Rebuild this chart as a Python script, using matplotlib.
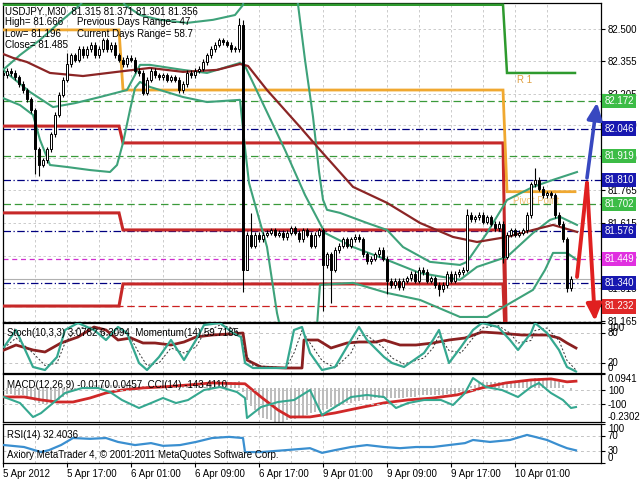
import numpy as np
import matplotlib
matplotlib.use("Agg")
import matplotlib.pyplot as plt
import matplotlib.transforms as mtrans

plt.rcParams['font.family'] = ['Liberation Sans', 'DejaVu Sans']

# ---------------- candles (USDJPY M30, bar 0 = 5 Apr 09:00) ----------------
close = [82.29, 82.31, 82.30, 82.28, 82.25, 82.22, 82.18, 82.13, 81.95, 81.88,
         81.90, 81.95, 82.02, 82.11, 82.20, 82.27, 82.34, 82.38, 82.36, 82.41,
         82.38, 82.41, 82.43, 82.38, 82.41, 82.45, 82.41, 82.43, 82.38, 82.36,
         82.34, 82.37, 82.36, 82.31, 82.30, 82.21, 82.27, 82.31, 82.29, 82.28,
         82.29, 82.27, 82.28, 82.27, 82.22, 82.25, 82.30, 82.29, 82.31, 82.32,
         82.35, 82.38, 82.41, 82.43, 82.45, 82.44, 82.43, 82.41, 82.41, 82.52,
         81.40, 81.56, 81.51, 81.56, 81.54, 81.56, 81.57, 81.58, 81.56, 81.57,
         81.55, 81.57, 81.59, 81.57, 81.54, 81.58, 81.56, 81.51, 81.56, 81.58,
         81.42, 81.47, 81.40, 81.49, 81.51, 81.54, 81.51, 81.54, 81.55, 81.54,
         81.47, 81.44, 81.45, 81.47, 81.49, 81.45, 81.35, 81.33, 81.35, 81.32,
         81.35, 81.36, 81.38, 81.35, 81.40, 81.39, 81.35, 81.36, 81.33, 81.31,
         81.33, 81.38, 81.35, 81.38, 81.39, 81.40, 81.65, 81.63, 81.64, 81.65,
         81.62, 81.64, 81.61, 81.59, 81.61, 81.46, 81.56, 81.58, 81.56, 81.57,
         81.58, 81.65, 81.79, 81.81, 81.77, 81.74, 81.75, 81.74, 81.65, 81.61,
         81.54, 81.315, 81.356]
first_open = 82.30
wick_pad = 0.012
high_override = {16: 82.39, 59: 82.55, 60: 82.54, 62: 81.66, 116: 81.68,
                 133: 81.865, 142: 81.371}
low_override = {8: 81.84, 9: 81.83, 60: 81.30, 61: 81.40, 80: 81.21, 82: 81.25,
                96: 81.29, 109: 81.28, 125: 81.43, 141: 81.30, 142: 81.301}

# ---------------- indicators on price chart ----------------
bb_up_x = [0, 4.25, 9.25, 14.25, 19.25, 23, 26.75, 30.5, 34.25, 39.25, 46, 52.5, 58, 60, 61,
           66.75, 73.5, 75.5, 77.5, 79, 80, 81, 84.25, 91, 96, 100, 106.75, 114.25, 116, 121,
           126, 132.5, 137.5, 143.5]
bb_up_v = [82.314, 82.382, 82.451, 82.533, 82.611, 82.70, 82.72, 82.611, 82.565, 82.543,
           82.529, 82.543, 82.565, 82.611, 82.80, 83.0, 82.65, 82.36, 82.10, 81.85,
           81.72, 81.674, 81.66, 81.614, 81.582, 81.504, 81.436, 81.422, 81.436, 81.568,
           81.719, 81.779, 81.811, 81.847]
bb_mid_x = [0, 6.75, 12.5, 18, 24.25, 31, 33, 34.25, 36.75, 45, 51, 59.25, 60.5, 65.5, 70.5,
            75.5, 80.5, 87.5, 96, 104.25, 114.25, 118.5, 126, 132.5, 136.75, 139.25, 143.5]
bb_mid_v = [82.314, 82.213, 82.144, 82.162, 82.190, 82.222, 82.291, 82.337, 82.337, 82.314,
            82.300, 82.346, 82.332, 82.140, 81.948, 81.742, 81.568, 81.504, 81.445, 81.385,
            81.354, 81.413, 81.459, 81.568, 81.628, 81.642, 81.605]
bb_lo_x = [0, 4.25, 7.5, 9.25, 11.75, 16, 21.75, 26.75, 28.5, 30, 31.75, 33, 34.25, 36.75, 45,
           51, 59.25, 60.5, 61.5, 66, 68.5, 70, 74.25, 78.25, 79.25, 87.5, 96, 104.25, 114.25,
           121, 126, 132.5, 135.5, 137.5, 141, 143.5]
bb_lo_v = [82.185, 82.153, 82.108, 81.994, 81.879, 81.870, 81.856, 81.847, 81.879, 81.980,
           82.131, 82.231, 82.259, 82.236, 82.190, 82.167, 82.177, 81.957, 81.797, 81.504,
           81.202, 81.08, 80.9, 81.08, 81.331, 81.340, 81.294, 81.262, 81.184, 81.184,
           81.239, 81.308, 81.399, 81.477, 81.477, 81.445]
ma_x = [0, 2.5, 6, 11.75, 20, 28.5, 36.75, 45, 53.5, 59.25, 61.25, 66, 74.25, 79.25, 87.5, 96,
        104.25, 112.5, 118.5, 126, 132.5, 137.5, 143.5]
ma_v = [82.387, 82.369, 82.350, 82.300, 82.286, 82.305, 82.323, 82.305, 82.314, 82.341,
        82.332, 82.222, 82.053, 81.948, 81.779, 81.706, 81.614, 81.550, 81.527, 81.550,
        81.582, 81.605, 81.573]

# daily step lines: segments [0-30], [30-126], [126-143]
day_edges = [0, 30, 126, 143]
red_top = [82.057, 81.980, 80.90]
red_mid = [81.660, 81.582, 80.90]
red_low = [81.234, 81.335, 80.90]
orange_pp = [82.497, 82.222, 81.757]
green_r1 = [82.612, 82.612, 82.300]

levels_blue = [82.046, 81.810, 81.576, 81.340]
levels_green = [82.172, 81.919, 81.702]
level_magenta = 81.449
level_red = 81.232
bid_price = 81.356

arrow_blue_x = [146.0, 148.5]
arrow_blue_v = [81.82, 82.165]
arrow_red_x = [143.5, 146.0, 148.0]
arrow_red_v = [81.367, 81.797, 81.165]

price_ticks = [81.165, 81.315, 81.465, 81.615, 81.765, 81.910, 82.060, 82.205, 82.355, 82.500]

# ---------------- sub-window indicators ----------------
stoch_x = [0.25, 3.25, 7.5, 10.5, 13.5, 15.5, 18.75, 22.75, 25.75, 28.75, 31, 34, 36, 39, 42,
           45.25, 48.25, 50.25, 54.25, 57.5, 59.5, 60.5, 62.5, 70.75, 72.75, 74.75, 76.75,
           79.75, 83, 87, 89, 91, 95.25, 97.25, 100.25, 105.25, 107.5, 109, 111.5, 114.5,
           117.5, 119.75, 123.75, 126.75, 128.75, 132, 133, 136, 139, 141, 143.25]
stoch_main = [52, 86, 12, 6, 32, 86, 100, 86, 66, 92, 80, 20, 6, 32, 66, 26, 66, 96, 100, 80,
              72, 20, 10, 10, 86, 92, 40, 6, 12, 66, 92, 66, 32, 20, 12, 40, 66, 86, 20, 52,
              86, 100, 92, 66, 46, 80, 100, 80, 46, 12, 3]
stoch_sig = [50, 70, 40, 15, 20, 60, 90, 92, 76, 80, 84, 40, 15, 20, 50, 40, 52, 80, 96, 90,
             78, 40, 15, 10, 40, 85, 60, 25, 10, 40, 75, 75, 50, 30, 18, 30, 50, 75, 45, 40,
             70, 90, 95, 80, 60, 65, 85, 90, 65, 25, 6]
mom_x = [0.25, 3.25, 7.5, 10.5, 14.5, 18.75, 22.75, 25.75, 28.75, 32, 35, 38, 42, 45.25, 48.25,
         52.25, 56.5, 60, 61, 64.5, 70.75, 74.75, 75.25, 78.75, 82, 86, 89, 93.25, 95.25, 99.25,
         103.25, 107.5, 111.5, 115.5, 119.75, 123.75, 129.75, 136, 139, 141, 143.25]
mom_v = [46, 56, 46, 42, 60, 72, 92, 86, 66, 70, 60, 60, 56, 62, 72, 76, 78, 80, 26, 12, 10, 10,
         66, 66, 50, 60, 62, 62, 66, 56, 56, 60, 66, 70, 82, 80, 76, 76, 70, 60, 50]

macd_main = [-0.04, -0.04, -0.04, -0.05, -0.05, -0.05, -0.06, -0.07, -0.09, -0.10,
             -0.11, -0.11, -0.10, -0.09, -0.08, -0.06, -0.05, -0.03, -0.02, -0.01,
             0.00, 0.01, 0.01, 0.02, 0.02, 0.02, 0.02, 0.02, 0.02, 0.02,
             0.02, 0.02, 0.02, 0.02, 0.01, 0.01, 0.01, 0.01, 0.01, 0.01,
             0.01, 0.01, 0.01, 0.01, 0.01, 0.01, 0.01, 0.02, 0.02, 0.02,
             0.03, 0.03, 0.04, 0.04, 0.04, 0.04, 0.04, 0.04, 0.04, 0.05,
             -0.03, -0.08, -0.12, -0.15, -0.18, -0.20, -0.21, -0.22, -0.23, -0.23,
             -0.23, -0.22, -0.21, -0.21, -0.20, -0.19, -0.18, -0.17, -0.16, -0.15,
             -0.15, -0.14, -0.13, -0.12, -0.12, -0.11, -0.10, -0.10, -0.09, -0.09,
             -0.08, -0.08, -0.08, -0.07, -0.07, -0.07, -0.07, -0.07, -0.07, -0.07,
             -0.07, -0.06, -0.06, -0.06, -0.05, -0.05, -0.05, -0.05, -0.05, -0.05,
             -0.05, -0.04, -0.04, -0.04, -0.03, -0.03, -0.01, 0.01, 0.02, 0.03,
             0.04, 0.04, 0.04, 0.04, 0.04, 0.04, 0.04, 0.04, 0.04, 0.04,
             0.04, 0.05, 0.06, 0.07, 0.07, 0.07, 0.07, 0.06, 0.05, 0.04,
             0.02, 0.00, -0.017]
macd_sig_x = [0.25, 5.25, 9.5, 13.5, 17.5, 21.75, 25.75, 29.75, 35, 40, 46.25, 52.25, 56.5,
              60.5, 64.5, 68.75, 71.75, 76.75, 83, 89, 95.25, 101.25, 107.5, 113.5, 119.75,
              125.75, 132, 137, 141, 143.25]
macd_sig_v = [-0.061, -0.061, -0.081, -0.095, -0.095, -0.068, -0.034, -0.014, 0.0, 0.007,
              0.020, 0.034, 0.030, 0.028, -0.061, -0.149, -0.196, -0.196, -0.169, -0.135,
              -0.101, -0.081, -0.068, -0.047, 0.0, 0.034, 0.054, 0.061, 0.041, 0.0457]
cci_x = [0.25, 4.25, 7.5, 9.5, 12.5, 15.5, 19.75, 23.75, 26.75, 29.75, 34, 37, 40, 43.25, 46.25,
         50.25, 54.25, 58.5, 60.5, 61, 64.5, 68.75, 72.75, 76.75, 79.75, 83, 87, 91, 95.25,
         98.25, 101.25, 105.25, 109.5, 112.5, 115.5, 117.5, 120.75, 124.75, 128.75, 132, 134,
         137, 140, 142, 143.25]
cci_v = [0, -86, -286, -230, -86, 57, 128, 128, 71, -43, -157, -86, -14, -86, -43, 100, 143, 71,
         -14, -300, -143, -71, -43, 100, -257, -143, 0, 29, 0, -157, -86, -43, -43, -114, 57,
         271, 143, 100, 0, 143, 200, 57, -43, -157, -143]
rsi_x = [0.25, 5.25, 9.5, 11.5, 14.5, 17.5, 21.75, 25.75, 28.75, 33, 37, 40, 44.25, 48.25, 52.25,
         56.5, 60, 60.5, 64.5, 70.75, 76.75, 79.75, 83, 87, 91, 95.25, 99.25, 103.25, 107.5,
         111.5, 115.5, 117.5, 121.75, 126.75, 131, 133, 136, 139, 141, 143.25]
rsi_v = [46, 41, 28, 33, 46, 64, 62, 64, 54, 46, 51, 44, 46, 54, 64, 67, 64, 28, 28, 33, 38, 26,
         33, 41, 46, 41, 38, 41, 41, 46, 51, 59, 54, 59, 72, 67, 59, 46, 38, 32.4]

time_ticks = [0, 16, 32, 48, 64, 80, 96, 112, 128]
time_labels = ["5 Apr 2012", "5 Apr 17:00", "6 Apr 01:00", "6 Apr 09:00", "6 Apr 17:00",
               "9 Apr 01:00", "9 Apr 09:00", "9 Apr 17:00", "10 Apr 01:00"]

# ---------------- figure ----------------
W, H = 640, 480
fig = plt.figure(figsize=(6.4, 4.8), dpi=100)
fig.patch.set_facecolor('white')


def px_axes(x0, y0, x1, y1):
    return fig.add_axes([x0 / W, 1 - y1 / H, (x1 - x0) / W, (y1 - y0) / H])


ax = px_axes(3, 3, 601, 322)
ax_s = px_axes(3, 323, 601, 373)
ax_m = px_axes(3, 374, 601, 422)
ax_r = px_axes(3, 424, 601, 463)

GRID = '#c4c4c4'
FS = 7


def style_axes(a):
    a.set_xlim(0, 149.5)
    for s in a.spines.values():
        s.set_color('black')
        s.set_linewidth(0.9)
    a.set_xticks(time_ticks)
    a.set_xticks(np.arange(8, 149, 16), minor=True)
    a.grid(True, axis='x', which='both', color=GRID, ls=(0, (3, 3)), lw=0.6)
    a.yaxis.tick_right()
    a.tick_params(axis='y', which='both', right=True, left=False, labelright=True,
                  labelleft=False, length=3, width=0.8, labelsize=FS, pad=2, colors='black')
    a.tick_params(axis='x', which='both', length=0, labelbottom=False)
    a.set_axisbelow(True)


for a in (ax, ax_s, ax_m, ax_r):
    style_axes(a)

# ---------- main chart ----------
ax.set_ylim(81.161, 82.620)
ax.set_yticks(price_ticks)
ax.set_yticklabels([f"{v:.3f}" for v in price_ticks])
ax.grid(True, axis='y', color=GRID, ls=(0, (3, 3)), lw=0.6)

for v in levels_blue:
    ax.axhline(v, color='#000080', lw=0.9, ls=(0, (6, 2, 1, 2)), zorder=2)
for v in levels_green:
    ax.axhline(v, color='#3a9a3a', lw=0.9, ls=(0, (6, 3)), zorder=2)
ax.axhline(level_magenta, color='#d030d0', lw=0.9, ls=(0, (4, 3)), zorder=2)
ax.axhline(level_red, color='#cc2020', lw=0.9, ls=(0, (6, 3)), zorder=2)
ax.axhline(bid_price, color='#b0b0b0', lw=0.8, zorder=2)


def step_xy(levels, edges):
    xs, ys = [], []
    for k, lv in enumerate(levels):
        x0 = edges[k]
        x1 = edges[k + 1] - (1 if k < len(levels) - 1 else 0)
        xs += [x0, x1]
        ys += [lv, lv]
    return xs, ys


for lv, col, lw in ((red_top, '#c62828', 2.2), (red_mid, '#c62828', 2.2),
                    (red_low, '#c62828', 2.2), (orange_pp, '#f0a830', 2.0),
                    (green_r1, '#2e9a2e', 1.8)):
    xs, ys = step_xy(lv, day_edges)
    ax.plot(xs, ys, color=col, lw=lw, zorder=3, solid_joinstyle='miter')

bb_col = '#3ea27a'
ax.plot(bb_up_x, bb_up_v, color=bb_col, lw=1.5, zorder=3.5)
ax.plot(bb_mid_x, bb_mid_v, color=bb_col, lw=1.5, zorder=3.5)
ax.plot(bb_lo_x, bb_lo_v, color=bb_col, lw=1.5, zorder=3.5)
ax.plot(ma_x, ma_v, color='#8b2525', lw=1.6, zorder=3.6)

# candles
n = len(close)
xb = np.arange(n)
opens = [first_open] + close[:-1]
highs = [high_override.get(i, max(o, c) + wick_pad) for i, (o, c) in enumerate(zip(opens, close))]
lows = [low_override.get(i, min(o, c) - wick_pad) for i, (o, c) in enumerate(zip(opens, close))]
bottoms = [min(o, c) for o, c in zip(opens, close)]
heights = [max(abs(c - o), 0.003) for o, c in zip(opens, close)]
fcols = ['white' if c >= o else 'black' for o, c in zip(opens, close)]
ax.vlines(xb, lows, highs, color='black', lw=0.8, zorder=4)
ax.bar(xb, heights, bottom=bottoms, width=0.62, color=fcols, edgecolor='black',
       linewidth=0.7, zorder=5)

# arrows
ax.annotate('', xy=(arrow_blue_x[1], arrow_blue_v[1]), xytext=(arrow_blue_x[0], arrow_blue_v[0]),
            arrowprops=dict(arrowstyle='-|>,head_length=1.0,head_width=0.45', color='#3848c0',
                            lw=2.6, shrinkA=0, shrinkB=0), zorder=6, annotation_clip=False)
ax.plot(arrow_red_x[:2], arrow_red_v[:2], color='#e02020', lw=2.8, zorder=6,
        solid_capstyle='round')
ax.annotate('', xy=(arrow_red_x[2], arrow_red_v[2]), xytext=(arrow_red_x[1], arrow_red_v[1]),
            arrowprops=dict(arrowstyle='-|>,head_length=1.0,head_width=0.45', color='#e02020',
                            lw=2.8, shrinkA=0, shrinkB=0), zorder=6, annotation_clip=False)

ax.text(128.5, 82.27, "R 1", color='#e0a040', fontsize=FS, va='center', ha='left', zorder=3)
ax.text(127.5, 81.715, "Pivot Point", color='#f0c070', fontsize=FS, va='center', ha='left',
        zorder=3)

# colored right-side labels
trans = mtrans.blended_transform_factory(ax.transAxes, ax.transData)
right_labels = [(82.172, '#3cbc46'), (82.046, '#1818b0'), (81.919, '#3cbc46'),
                (81.810, '#1818b0'), (81.702, '#3cbc46'), (81.576, '#1818b0'),
                (81.449, '#e030e0'), (81.340, '#1818b0'), (81.232, '#e02828')]
for v, col in right_labels:
    ax.text(1.006, v, f"{v:.3f}", transform=trans, color='white', fontsize=FS, va='center',
            ha='left', clip_on=False, zorder=10,
            bbox=dict(boxstyle='square,pad=0.22', fc=col, ec='none'))

# header text
hdr = [(5, 11, "USDJPY.,M30  81.315 81.371 81.301 81.356"),
       (5, 22, "High= 81.666"), (77, 22, "Previous Days Range= 47"),
       (5, 34, "Low= 81.196"), (77, 34, "Current Days Range= 58.7"),
       (5, 45, "Close= 81.485")]
for x, y, s in hdr:
    fig.text(x / W, 1 - y / H, s, fontsize=FS, color='black', va='center', ha='left', zorder=20)

# ---------- stochastic / momentum ----------
ax_s.set_ylim(0, 100)
ax_s.axhline(80, color=GRID, ls=(0, (3, 3)), lw=0.7, zorder=1)
ax_s.axhline(20, color=GRID, ls=(0, (3, 3)), lw=0.7, zorder=1)
ax_s.plot(mom_x, mom_v, color='#8b2020', lw=2.0, zorder=3)
ax_s.plot(stoch_x, stoch_sig, color='#303030', lw=0.7, ls=(0, (2, 2)), zorder=3)
ax_s.plot(stoch_x, stoch_main, color='#35a890', lw=1.6, zorder=4)
ax_s.set_yticks([100, 80, 20, 0])
ax_s.set_yticklabels(["100", "80", "20", "0"])
for t, va in zip(ax_s.yaxis.get_major_ticks(), ['top', 'center', 'center', 'bottom']):
    t.label2.set_verticalalignment(va)
ax_s.text(0.007, 0.80, "Stoch(10,3,3) 3.0782 6.3094  Momentum(14) 59.7185",
          transform=ax_s.transAxes, fontsize=FS, va='center', ha='left', zorder=10)

# ---------- MACD / CCI ----------
ax_c = ax_m.twinx()
style_axes(ax_m)
ax_m.set_ylim(-0.2302, 0.0941)
ax_m.bar(xb, macd_main, width=0.5, color='#bdbdbd', zorder=2)
ax_m.plot(macd_sig_x, macd_sig_v, color='#d02828', lw=2.0, zorder=3)
ax_m.set_yticks([0.0941, -0.2302])
ax_m.set_yticklabels(["0.0941", "-0.2302"])
for t, va in zip(ax_m.yaxis.get_major_ticks(), ['top', 'bottom']):
    t.label2.set_verticalalignment(va)
ax_c.set_xlim(0, 149.5)
ax_c.set_ylim(-357, 329)
ax_c.axhline(100, color=GRID, ls=(0, (3, 3)), lw=0.7, zorder=1)
ax_c.axhline(-100, color=GRID, ls=(0, (3, 3)), lw=0.7, zorder=1)
ax_c.plot(cci_x, cci_v, color='#35a890', lw=1.5, zorder=4)
ax_c.set_yticks([100, -100])
ax_c.set_yticklabels(["100", "-100"])
ax_c.tick_params(axis='y', length=3, width=0.8, labelsize=FS, pad=2)
for s in ax_c.spines.values():
    s.set_visible(False)
ax_m.text(0.007, 0.77, "MACD(12,26,9) -0.0170 0.0457  CCI(14) -143.4110",
          transform=ax_m.transAxes, fontsize=FS, va='center', ha='left', zorder=10)

# ---------- RSI ----------
ax_r.set_ylim(0, 100)
ax_r.axhline(70, color=GRID, ls=(0, (3, 3)), lw=0.7, zorder=1)
ax_r.axhline(30, color=GRID, ls=(0, (3, 3)), lw=0.7, zorder=1)
ax_r.plot(rsi_x, rsi_v, color='#3a8fd0', lw=1.6, zorder=3)
ax_r.set_yticks([100, 70, 30, 0])
ax_r.set_yticklabels(["100", "70", "30", "0"])
for t, va in zip(ax_r.yaxis.get_major_ticks(), ['top', 'center', 'center', 'bottom']):
    t.label2.set_verticalalignment(va)
ax_r.text(0.007, 0.72, "RSI(14) 32.4036", transform=ax_r.transAxes, fontsize=FS,
          va='center', ha='left', zorder=10)
ax_r.text(0.007, 0.2, "Axiory MetaTrader 4, \u00a9 2001-2011 MetaQuotes Software Corp.",
          transform=ax_r.transAxes, fontsize=FS, va='center', ha='left', zorder=10)
ax_r.set_xticklabels(time_labels)
ax_r.tick_params(axis='x', which='major', length=3, width=0.8, labelbottom=True,
                 labelsize=FS, pad=1.5, direction='out')
for lab in ax_r.get_xticklabels():
    lab.set_horizontalalignment('left')

fig.savefig("out.png", dpi=100, facecolor='white')
